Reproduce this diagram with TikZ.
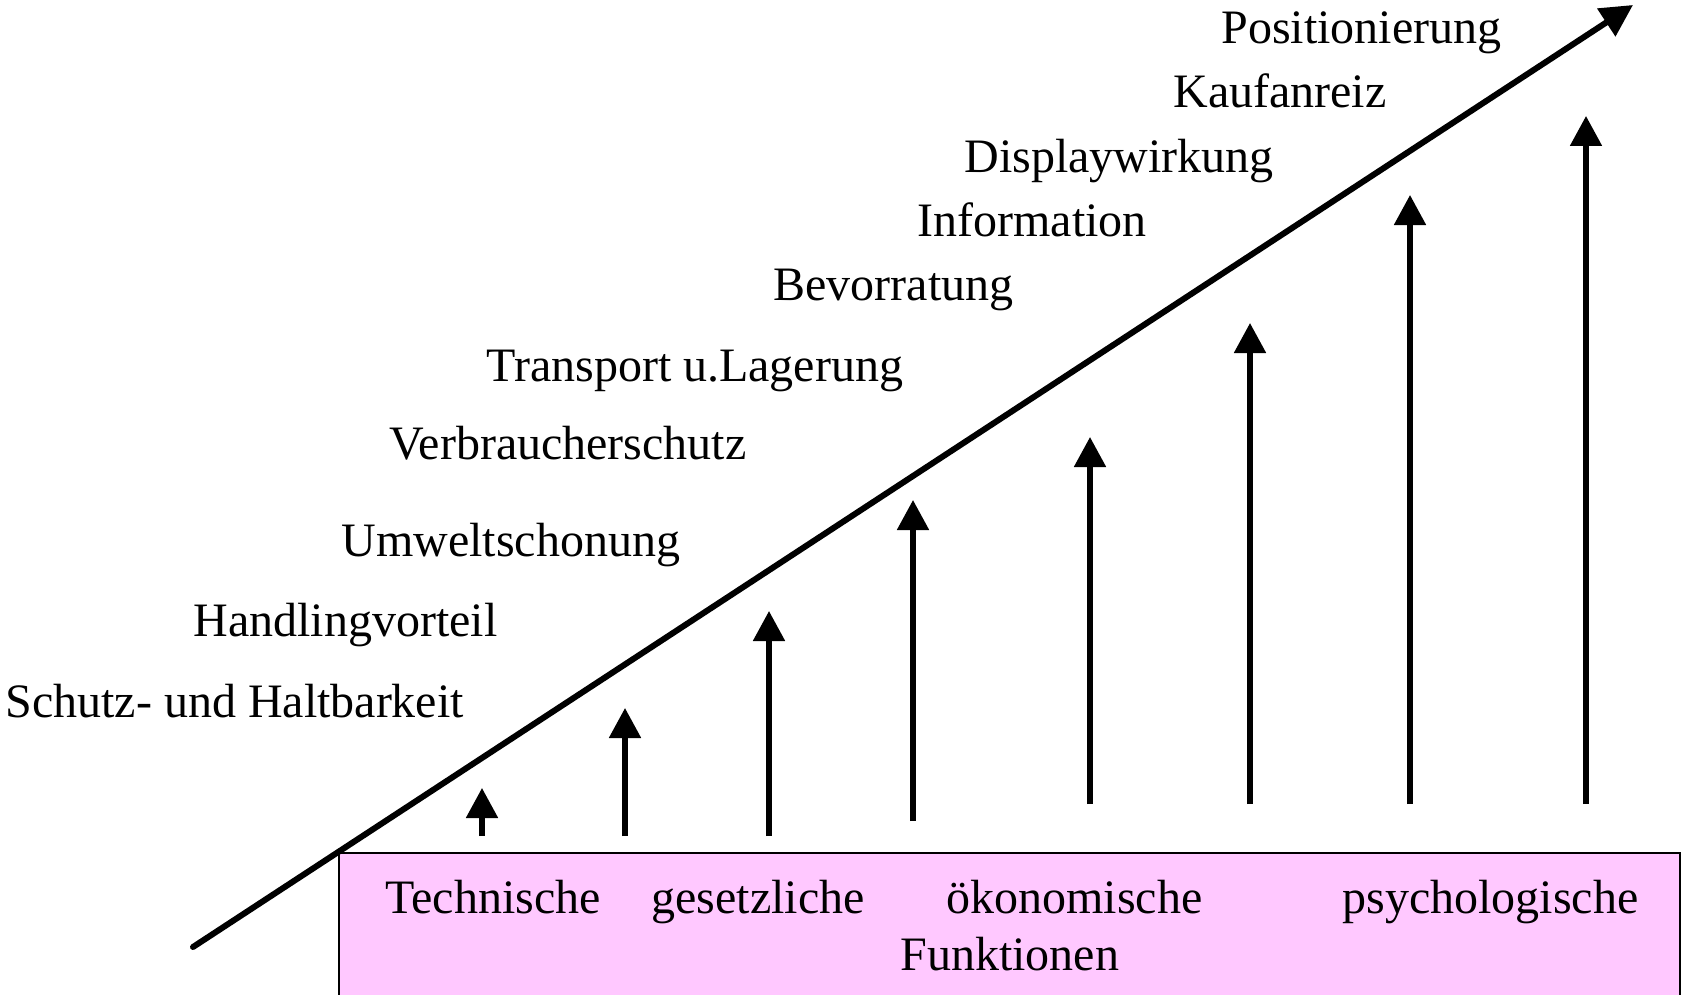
\documentclass[tikz,border=0pt]{standalone}
\usepackage{fontspec}
\setmainfont{Liberation Serif}
\usetikzlibrary{arrows.meta}
\definecolor{boxpink}{RGB}{255,200,255}
\tikzset{
  lbl/.style={inner sep=0pt, anchor=base west, font=\fontsize{24pt}{28pt}\selectfont},
  risearrow/.style={line width=2.6pt, -{Triangle[width=15.5pt,length=15pt]}},
  mainarrow/.style={line width=3pt, line cap=round, -{Triangle[width=16pt,length=16pt]}},
  funcbox/.style={fill=boxpink, draw=black, line width=0.9pt}
}
\begin{document}
\begin{tikzpicture}[x=0.5pt,y=-0.5pt]
\useasboundingbox (0,0) rectangle (1682,995);
\clip (0,0) rectangle (1682,995);

% function box at the bottom
\path[funcbox] (339,853) rectangle (1680,1000);
\node[lbl] (tech) at (385,913) {Technische};
\node[lbl] (gesetz) at (651,913) {gesetzliche};
\node[lbl] (oeko) at (946,913) {ökonomische};
\node[lbl] (psych) at (1342,913) {psychologische};
\node[lbl] (funk) at (900,970) {Funktionen};

% rising main arrow
\coordinate (mstart) at (193,947);
\coordinate (mend) at (1633,5);
\draw[mainarrow] (mstart) -- (mend);

% stepwise rising arrows
\foreach \i/\x/\yb/\yt in {1/482/836/788, 2/625/836/708, 3/769/836/611, 4/913/821/500,
                           5/1090/804/437, 6/1250/804/323, 7/1410/804/195, 8/1586/804/116} {
  \coordinate (b\i) at (\x,\yb);
  \coordinate (t\i) at (\x,\yt);
  \draw[risearrow] (b\i) -- (t\i);
}

% function labels along the slope
\node[lbl] (schutz) at (5,717) {Schutz- und Haltbarkeit};
\node[lbl] (handling) at (193,636) {Handlingvorteil};
\node[lbl] (umwelt) at (341,556) {Umweltschonung};
\node[lbl] (verbr) at (389,459) {Verbraucherschutz};
\node[lbl] (transp) at (486,381) {Transport u.Lagerung};
\node[lbl] (bevorr) at (773,300) {Bevorratung};
\node[lbl] (info) at (917,236) {Information};
\node[lbl] (display) at (964,173) {Displaywirkung};
\node[lbl] (kauf) at (1173,108) {Kaufanreiz};
\node[lbl] (posit) at (1221,44) {Positionierung};
\end{tikzpicture}
\end{document}
